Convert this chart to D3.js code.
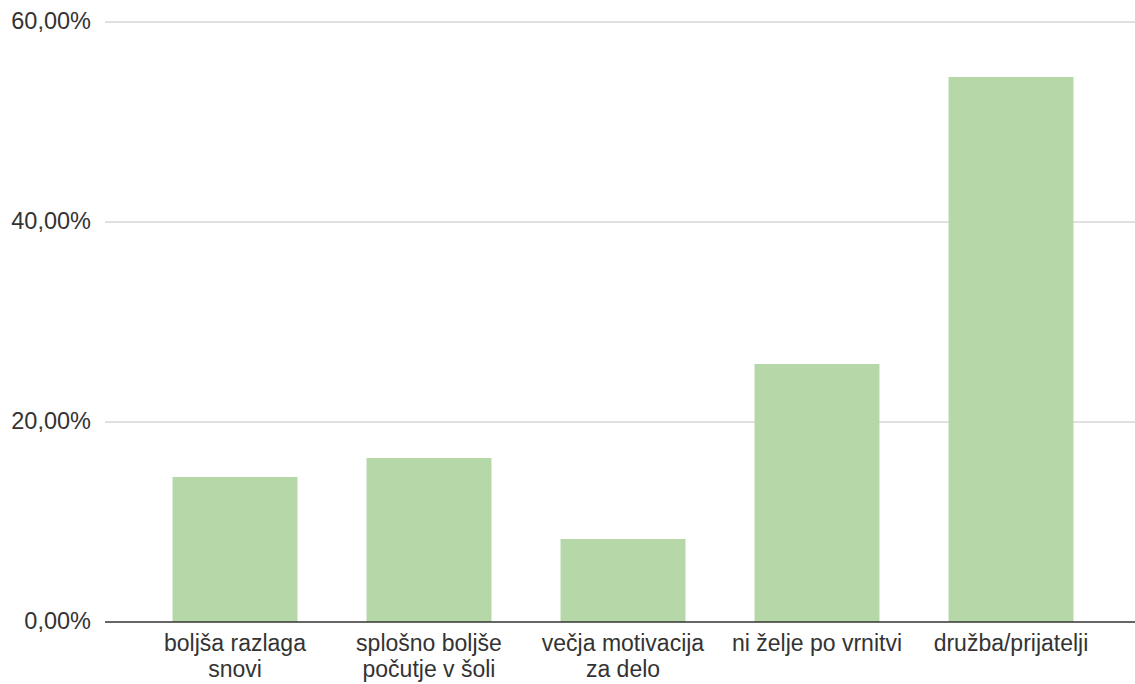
<!DOCTYPE html>
<html>
<head>
<meta charset="utf-8">
<script src="https://cdn.jsdelivr.net/npm/d3@7"></script>
<style>
  body { margin: 0; background: #fff; }
  text { font-family: "Liberation Sans", Arial, sans-serif; fill: #333; }
</style>
</head>
<body>
<svg width="1135" height="684"></svg>
<script>
// data
var categories = [
  ["boljša razlaga", "snovi"],
  ["splošno boljše", "počutje v šoli"],
  ["večja motivacija", "za delo"],
  ["ni želje po vrnitvi"],
  ["družba/prijatelji"]
];
var values = [14.5, 16.4, 8.3, 25.8, 54.5];
var yTicks = [0, 20, 40, 60];

var svg = d3.select("svg");

// scales
var x = d3.scaleBand()
    .domain(d3.range(values.length))
    .range([138, 1108])
    .paddingInner(0.356)
    .paddingOuter(0.178);

var y = d3.scaleLinear().domain([0, 60]).range([622, 22]);

var fmt = function(d) { return d3.format(".2f")(d).replace(".", ",") + "%"; };

// gridlines
svg.append("g").selectAll("line")
    .data(yTicks.filter(function(d) { return d > 0; }))
    .enter().append("line")
    .attr("x1", 105).attr("x2", 1135)
    .attr("y1", function(d) { return y(d); })
    .attr("y2", function(d) { return y(d); })
    .attr("stroke", "#d6d6d6")
    .attr("stroke-width", 1.5);

// y labels
svg.append("g").selectAll("text")
    .data(yTicks)
    .enter().append("text")
    .attr("x", 91)
    .attr("y", function(d) { return y(d); })
    .attr("dy", "0.3em")
    .attr("text-anchor", "end")
    .style("font-size", "23.5px")
    .text(fmt);

// bars
svg.append("g").selectAll("rect")
    .data(values)
    .enter().append("rect")
    .attr("x", function(d, i) { return x(i); })
    .attr("y", function(d) { return y(d); })
    .attr("width", x.bandwidth())
    .attr("height", function(d) { return y(0) - y(d); })
    .attr("fill", "#b6d7a8");

// baseline
svg.append("line")
    .attr("x1", 105).attr("x2", 1135)
    .attr("y1", y(0)).attr("y2", y(0))
    .attr("stroke", "#333")
    .attr("stroke-width", 1.5);

// category labels, one text per line
var lab = svg.append("g").selectAll("g")
    .data(categories)
    .enter().append("g");

lab.selectAll("text")
    .data(function(d, i) { return d.map(function(t) { return {t: t, i: i}; }); })
    .enter().append("text")
    .attr("x", function(d) { return x(d.i) + x.bandwidth() / 2; })
    .attr("y", function(d, j) { return 651 + j * 26; })
    .attr("text-anchor", "middle")
    .style("font-size", "23px")
    .text(function(d) { return d.t; });
</script>
</body>
</html>
